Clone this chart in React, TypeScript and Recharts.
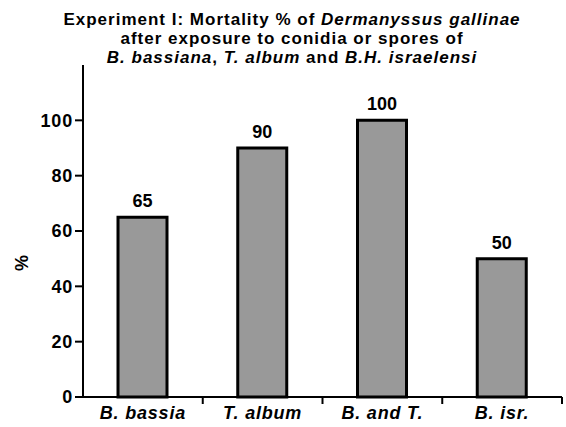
import { BarChart, Bar, XAxis, YAxis, LabelList } from "recharts"

const categories = ["B. bassia", "T. album", "B. and T.", "B. isr."]
const mortality = [65, 90, 100, 50]
const yTicks = [0, 20, 40, 60, 80, 100]

const data = categories.map((name, i) => ({ name, mortality: mortality[i] }))

const FONT = "'Liberation Sans', Arial, sans-serif"

// category label + boundary tick mark on the right side of each band
const CategoryTick = (props: any) => {
  const { x, y, payload } = props
  const edge = x + (payload.offset || 0)
  return (
    <g>
      <line x1={edge} y1={y - 8} x2={edge} y2={y - 1} stroke="#000" strokeWidth={2} />
      <text
        x={x}
        y={y + 14}
        textAnchor="middle"
        fontFamily={FONT}
        fontSize={18}
        fontWeight="bold"
        fontStyle="italic"
        letterSpacing={0.8}
        fill="#000"
      >
        {payload.value}
      </text>
    </g>
  )
}

const PercentLabel = ({ viewBox }: any) => {
  const cx = viewBox.x + 22
  const cy = viewBox.y + viewBox.height / 2 + 32
  return (
    <text
      x={cx}
      y={cy}
      transform={`rotate(-90, ${cx}, ${cy})`}
      textAnchor="middle"
      dominantBaseline="central"
      fontFamily={FONT}
      fontSize={18}
      fontWeight="bold"
      fill="#000"
    >
      %
    </text>
  )
}

export default function App() {
  return (
    <div style={{ position: "absolute", left: 0, top: 0, width: 566, height: 427, background: "#fff" }}>
      <div
        style={{
          position: "absolute",
          left: 0,
          top: 10,
          width: 584,
          textAlign: "center",
          fontFamily: FONT,
          fontWeight: "bold",
          fontSize: 17,
          letterSpacing: 1,
          lineHeight: "19px",
          color: "#000",
        }}
      >
        <div>
          Experiment I: Mortality % of <i>Dermanyssus gallinae</i>
        </div>
        <div>after exposure to conidia or spores of</div>
        <div>
          <i>B. bassiana</i>, <i>T. album</i> and <i>B.H. israelensi</i>
        </div>
      </div>
      <BarChart
        width={566}
        height={427}
        data={data}
        margin={{ top: 65, right: 4, left: 0, bottom: 0 }}
        style={{ position: "absolute", left: 0, top: 0 }}
      >
        <XAxis
          dataKey="name"
          height={30}
          axisLine={{ stroke: "#000", strokeWidth: 2 }}
          tickLine={false}
          tick={<CategoryTick />}
          interval={0}
        />
        <YAxis
          width={83}
          domain={[0, 120]}
          ticks={yTicks}
          interval={0}
          axisLine={{ stroke: "#000", strokeWidth: 2 }}
          tickLine={{ stroke: "#000", strokeWidth: 2 }}
          tickSize={8}
          tick={{ fill: "#000", fontFamily: FONT, fontSize: 18, fontWeight: "bold", letterSpacing: 0.8 }}
          label={<PercentLabel />}
        />
        <Bar
          dataKey="mortality"
          fill="#999999"
          stroke="#000"
          strokeWidth={3}
          barSize={49}
          isAnimationActive={false}
        >
          <LabelList
            dataKey="mortality"
            position="top"
            offset={10}
            fill="#000"
            fontFamily={FONT}
            fontSize={18}
            fontWeight="bold"
          />
        </Bar>
      </BarChart>
    </div>
  )
}
